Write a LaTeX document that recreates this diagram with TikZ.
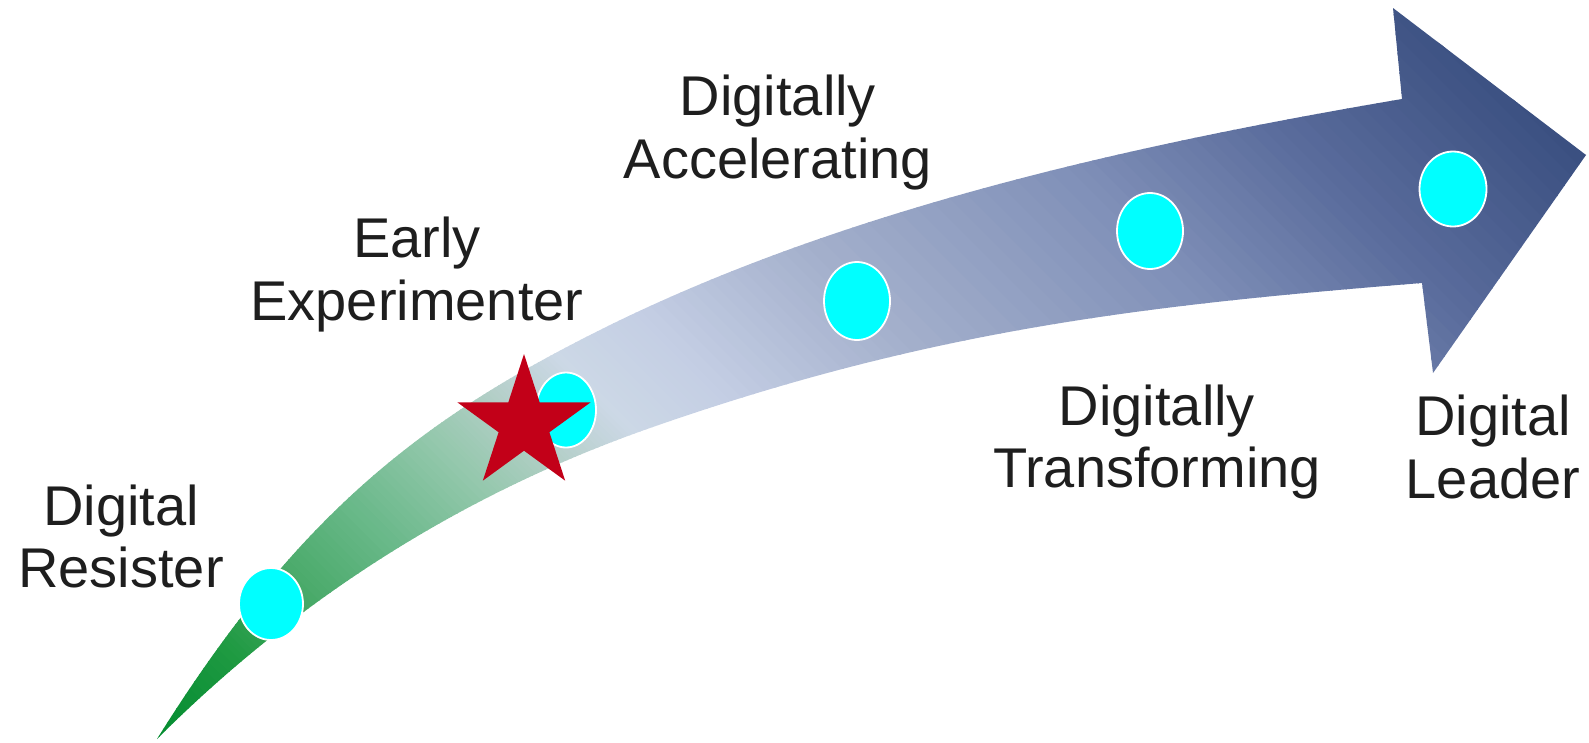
\documentclass[tikz,border=0pt]{standalone}
\usepackage{fontspec}
\setmainfont{Liberation Sans}
\usetikzlibrary{shapes.geometric}
\definecolor{g0}{HTML}{008A2E}
\definecolor{g1}{HTML}{1F9A42}
\definecolor{g2}{HTML}{46A866}
\definecolor{g3}{HTML}{6AB98A}
\definecolor{g4}{HTML}{96C8AE}
\definecolor{g5}{HTML}{B4CFC8}
\definecolor{g6}{HTML}{CCD8E6}
\definecolor{g7}{HTML}{C4CEE4}
\definecolor{g8}{HTML}{A4B0CC}
\definecolor{g9}{HTML}{8090B8}
\definecolor{g10}{HTML}{5A6C9C}
\definecolor{g11}{HTML}{3A4F80}
\definecolor{g12}{HTML}{354A7C}
\definecolor{starred}{RGB}{194,0,24}
\definecolor{dotcyan}{HTML}{00FFFF}
\definecolor{txtgray}{HTML}{1E1E1E}
\newcommand\arrowseg[4]{%
  \foreach \stp in {0,...,15}{%
    \pgfmathsetmacro\da{#1+(#2-#1)*\stp/16}%
    \pgfmathsetmacro\db{#1+(#2-#1)*(\stp+1)/16+1.5}%
    \pgfmathtruncatemacro\pc{round(100*(\stp+0.5)/16)}%
    \fill[#4!\pc!#3] (\da-150,-150) -- (\da+900,900) -- (\db+900,900) -- (\db-150,-150) -- cycle;
  }%
}
\tikzset{
  dot/.style={ellipse, fill=dotcyan, draw=white, line width=1.8pt, inner sep=0pt},
  lbl/.style={anchor=base, inner sep=0pt, text=txtgray, font=\fontsize{56}{62}\selectfont}
}
\begin{document}
\begin{tikzpicture}[x=1pt,y=-1pt]
\useasboundingbox (0,0) rectangle (1589,742);
% gradient arrow
\begin{scope}
\clip (157,739) .. controls (297,515) and (420,420) .. (600,330)
  .. controls (850,205) and (1152,141.5) .. (1402,99)
  -- (1393,8) -- (1586,155) -- (1433,373) -- (1422,283)
  .. controls (1142,305.4) and (930,330) .. (650,428)
  .. controls (480,487.5) and (310,586) .. (157,739) -- cycle;
\arrowseg{-600}{-420}{g0}{g1}
\arrowseg{-420}{-300}{g1}{g2}
\arrowseg{-300}{-150}{g2}{g3}
\arrowseg{-150}{0}{g3}{g4}
\arrowseg{0}{100}{g4}{g5}
\arrowseg{100}{200}{g5}{g6}
\arrowseg{200}{330}{g6}{g7}
\arrowseg{330}{560}{g7}{g8}
\arrowseg{560}{900}{g8}{g9}
\arrowseg{900}{1150}{g9}{g10}
\arrowseg{1150}{1431}{g10}{g11}
\arrowseg{1431}{1600}{g11}{g12}
\end{scope}
% stage dots
\node[dot, minimum width=64pt, minimum height=72pt] (d1) at (271,604) {};
\node[dot, minimum width=60pt, minimum height=75pt] (d2) at (566,410) {};
\node[dot, minimum width=66pt, minimum height=78pt] (d3) at (857,301) {};
\node[dot, minimum width=66pt, minimum height=76pt] (d4) at (1150,231) {};
\node[dot, minimum width=67pt, minimum height=75pt] (d5) at (1453,189) {};
% star
\coordinate (starc) at (524,424);
\fill[starred, shift={(starc)}] (270:70) -- (306:26.7) -- (342:70) -- (18:26.7) -- (54:70) -- (90:26.7)
  -- (126:70) -- (162:26.7) -- (198:70) -- (234:26.7) -- cycle;
% labels
\node[lbl] (resA) at (121,525) {Digital};
\node[lbl] (resB) at (121,587) {Resister};
\node[lbl] (expA) at (417,257) {Early};
\node[lbl] (expB) at (417,320) {Experimenter};
\node[lbl] (accA) at (778,115) {Digitally};
\node[lbl] (accB) at (778,178) {Accelerating};
\node[lbl] (traA) at (1157,425) {Digitally};
\node[lbl] (traB) at (1157,487) {Transforming};
\node[lbl] (leaA) at (1493,435) {Digital};
\node[lbl] (leaB) at (1493,498) {Leader};
\end{tikzpicture}
\end{document}
